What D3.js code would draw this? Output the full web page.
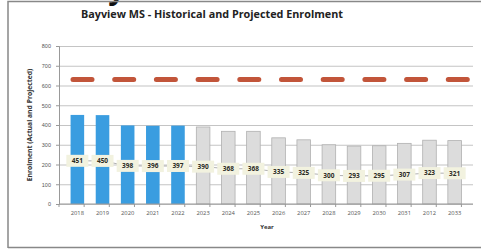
<!DOCTYPE html>
<html>
<head>
<meta charset="utf-8">
<script src="https://cdn.jsdelivr.net/npm/d3@7"></script>
<style>
  body { margin: 0; background: #fff; }
  svg { display: block; font-family: "Open Sans", "DejaVu Sans", sans-serif; }
</style>
</head>
<body>
<div id="chart"></div>
<script>
const years = ["2018","2019","2020","2021","2022","2023","2024","2025","2026","2027","2028","2029","2030","2031","2012","2033"]
const enrolment = [451,450,398,396,397,390,368,368,335,325,300,293,295,307,323,321]
const actualCount = 5
const capacity = 630
const yTicks = [0,100,200,300,400,500,600,700,800]

const W = 481, H = 250
const margin = { top: 46, left: 59, right: 8, bottom: 46 }
const width = 473 - margin.left,
      height = 204 - margin.top

const svg = d3.select("#chart").append("svg")
  .attr("width", W).attr("height", H)

// clipped heading from the page above
svg.append("text")
  .attr("x", 70).attr("y", -1)
  .attr("font-size", 30).attr("font-weight", "bold").attr("fill", "#111")
  .text("Bayview MS")

// frame
svg.append("path")
  .attr("d", "M8,248 V1.5 H481 M8,247.5 H481")
  .attr("fill", "none").attr("stroke", "#888").attr("stroke-width", 1.5)

svg.append("text")
  .attr("x", 212).attr("y", 18)
  .attr("text-anchor", "middle")
  .attr("font-size", 10.8).attr("font-weight", "bold").attr("fill", "#222")
  .text("Bayview MS - Historical and Projected Enrolment")

const plot = svg.append("g")
  .attr("transform", "translate(" + margin.left + "," + margin.top + ")")

const x = d3.scaleBand().domain(years).range([0, width]).padding(0.46)
const y = d3.scaleLinear().domain([0, 800]).range([height, 0])
// labels sit on a hidden secondary axis
const y2 = d3.scaleLinear().domain([0, 1650]).range([height, 0])

plot.append("g")
  .call(d3.axisLeft(y).tickValues(yTicks).tickSize(-width).tickPadding(8))
  .call(g => g.select(".domain").remove())
  .call(g => g.selectAll(".tick line").attr("stroke", "#c4c4c4").attr("stroke-width", 1.2))
  .call(g => g.selectAll(".tick text").attr("font-size", 5.5).attr("fill", "#555"))

// small outer ticks on the y axis
plot.append("g")
  .call(d3.axisLeft(y).tickValues(yTicks).tickSize(3).tickFormat(""))
  .call(g => g.select(".domain").attr("stroke", "#999"))
  .call(g => g.selectAll(".tick line").attr("stroke", "#999"))

plot.selectAll(".bar")
  .data(enrolment)
  .enter().append("rect")
  .attr("x", (d, i) => x(years[i]))
  .attr("width", x.bandwidth())
  .attr("y", d => y(d))
  .attr("height", d => height - y(d))
  .attr("fill", (d, i) => i < actualCount ? "#3a9de0" : "#dcdcdc")
  .attr("stroke", (d, i) => i < actualCount ? "none" : "#b0b0b0")
  .attr("stroke-width", 0.8)

// x axis with ticks between categories
const xAxis = plot.append("g").attr("transform", "translate(0," + height + ")")
xAxis.append("line").attr("x1", 0).attr("x2", width).attr("stroke", "#999").attr("stroke-width", 1.2)
xAxis.selectAll(".sep")
  .data(d3.range(years.length + 1))
  .enter().append("line")
  .attr("x1", i => x.step() * i).attr("x2", i => x.step() * i)
  .attr("y1", 0).attr("y2", 3).attr("stroke", "#999")
xAxis.selectAll(".yr")
  .data(years)
  .enter().append("text")
  .attr("x", d => x(d) + x.bandwidth() / 2)
  .attr("y", 11)
  .attr("text-anchor", "middle")
  .attr("font-size", 5.8).attr("fill", "#555")
  .text(d => d)

// capacity dashes
plot.append("line")
  .attr("x1", 14).attr("x2", width - 2)
  .attr("y1", y(capacity)).attr("y2", y(capacity))
  .attr("stroke", "#c2553a").attr("stroke-width", 5)
  .attr("stroke-linecap", "round")
  .attr("stroke-dasharray", "19,22.7")

// faint connecting line behind the labels
const line = d3.line()
  .x((d, i) => x(years[i]) + x.bandwidth() / 2)
  .y(d => y2(d))
plot.append("path")
  .datum(enrolment)
  .attr("d", line)
  .attr("fill", "none").attr("stroke", "#9a9a9a").attr("stroke-width", 0.8)

const lab = plot.selectAll(".lab")
  .data(enrolment)
  .enter().append("g")
  .attr("transform", (d, i) => "translate(" + (x(years[i]) + x.bandwidth() / 2) + "," + y2(d) + ")")
lab.append("rect")
  .attr("x", -11).attr("y", -6).attr("width", 22).attr("height", 12)
  .attr("fill", "#f2f2df")
lab.append("text")
  .attr("text-anchor", "middle").attr("dy", "0.35em")
  .attr("font-size", 6.5).attr("font-weight", "bold").attr("fill", "#2b2b1f")
  .text(d => d)

svg.append("text")
  .attr("x", 267).attr("y", 229)
  .attr("text-anchor", "middle")
  .attr("font-size", 6).attr("font-weight", "bold").attr("fill", "#333")
  .text("Year")

svg.append("text")
  .attr("transform", "translate(32," + (margin.top + height / 2) + ") rotate(-90)")
  .attr("text-anchor", "middle")
  .attr("font-size", 6.8).attr("font-weight", "bold").attr("fill", "#333")
  .text("Enrolment (Actual and Projected)")
</script>
</body>
</html>
